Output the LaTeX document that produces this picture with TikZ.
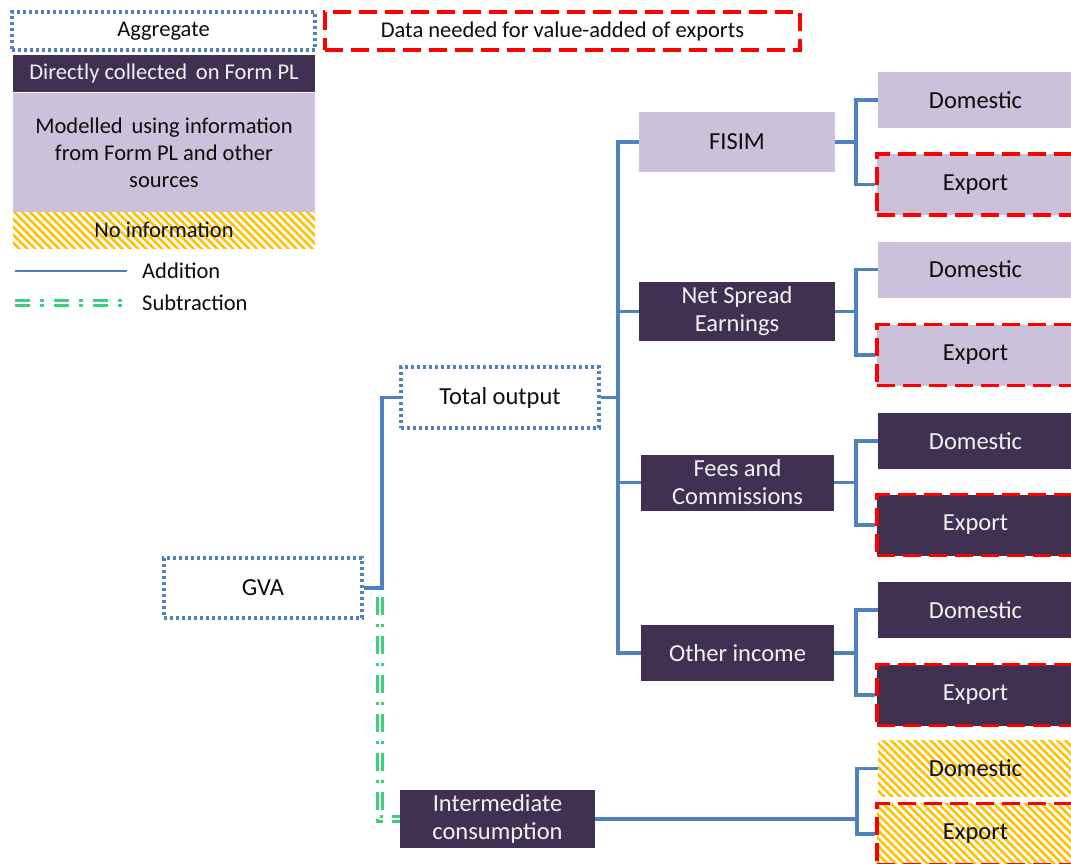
\documentclass[tikz,border=0pt]{standalone}
\usepackage{fontspec}
\setmainfont{Carlito}
\usetikzlibrary{patterns.meta}
\definecolor{darkp}{HTML}{403152}
\definecolor{lightp}{HTML}{CCC1DA}
\definecolor{conn}{HTML}{4F81BD}
\definecolor{subg}{HTML}{3DD07A}
\definecolor{hatch}{HTML}{FFC000}
\definecolor{lighttxt}{HTML}{F2F2F2}
\definecolor{darktxt}{HTML}{0D0D0D}
\tikzset{
  box/.style={minimum width=#1, inner sep=0pt, align=center, anchor=center},
  mainf/.style={font=\fontsize{24.5}{28}\selectfont},
  legf/.style={font=\fontsize{22.5}{27}\selectfont},
  darkbox/.style={fill=darkp, text=lighttxt, draw=none},
  lightbox/.style={fill=lightp, text=darktxt, draw=none},
  hatchbox/.style={pattern={Lines[angle=-45,distance=5.6pt,line width=2.6pt]}, pattern color=hatch, text=darktxt},
  aggbox/.style={draw=conn, line width=3.3pt, dash pattern=on 3pt off 3pt, fill=white, text=darktxt},
  expbox/.style={draw=red, line width=3.4pt, dash pattern=on 18pt off 8pt},
  addline/.style={draw=conn, line width=3.5pt},
  subline/.style={draw=subg, line width=3pt, double=white, double distance=1.6pt, dash pattern=on 18pt off 9pt on 3pt off 9pt},
}
\begin{document}
\begin{tikzpicture}[x=1pt,y=-1pt]
\useasboundingbox (0,0) rectangle (1071,863);
\clip (0,0) rectangle (1071,863);
\fill[white] (0,0) rectangle (1071,863);

% legend
\node[box=303pt, minimum height=38pt, aggbox, legf] (lagg) at (163.5,31) {Aggregate};
\node[box=475pt, minimum height=38pt, expbox, fill=white, text=darktxt, legf] (lexp) at (562.5,31) {Data needed for value-added of exports};
\node[box=302pt, minimum height=37pt, darkbox, legf] (ldir) at (164,73.5) {Directly collected\, on Form PL};
\node[box=302pt, minimum height=119pt, lightbox, legf] (lmod) at (164,152.5) {Modelled\, using information\\from Form PL and other\\sources};
\node[box=302pt, minimum height=36pt, hatchbox, legf] (lno) at (164,230) {No information};
\coordinate (la1) at (15,271);
\coordinate (la2) at (127,271);
\draw[addline, line width=2.4pt] (la1) -- (la2);
\node[anchor=west, inner sep=0pt, legf, text=darktxt] (ladd) at (142,271) {Addition};
\coordinate (ls1) at (15,303);
\coordinate (ls2) at (122,303);
\draw[subline, dash pattern=on 15pt off 10pt on 4pt off 10pt] (ls1) -- (ls2);
\node[anchor=west, inner sep=0pt, legf, text=darktxt] (lsub) at (142,303) {Subtraction};

% main tree
\node[box=198pt, minimum height=60pt, aggbox, mainf] (gva) at (263,588) {GVA};
\node[box=198pt, minimum height=61pt, aggbox, mainf] (tot) at (500,397.5) {Total output};
\node[box=195pt, minimum height=58pt, darkbox, mainf] (ic) at (497.5,819) {Intermediate\\consumption};

\node[box=196pt, minimum height=60pt, lightbox, mainf] (fisim) at (737,142) {FISIM};
\node[box=196pt, minimum height=59pt, darkbox, mainf] (nse) at (737,311.5) {Net Spread\\Earnings};
\node[box=193pt, minimum height=56pt, darkbox, mainf] (fc) at (737.5,482.5) {Fees and\\Commissions};
\node[box=193pt, minimum height=56pt, darkbox, mainf] (oi) at (737.5,653) {Other income};

% right column
\node[box=195pt, minimum height=56pt, lightbox, mainf] (fd) at (975.5,100) {Domestic};
\node[box=197pt, minimum height=61pt, lightbox, expbox, mainf] (fe) at (975.5,184.5) {Export};
\node[box=195pt, minimum height=56pt, lightbox, mainf] (nd) at (975.5,269.5) {Domestic};
\node[box=197pt, minimum height=61pt, lightbox, expbox, mainf] (ne) at (975.5,355) {Export};
\node[box=195pt, minimum height=56pt, darkbox, mainf] (cd) at (975.5,441) {Domestic};
\node[box=197pt, minimum height=61pt, darkbox, expbox, mainf] (ce) at (975.5,525) {Export};
\node[box=195pt, minimum height=56pt, darkbox, mainf] (od) at (975.5,610) {Domestic};
\node[box=197pt, minimum height=61pt, darkbox, expbox, mainf] (oe) at (975.5,695) {Export};
\node[box=195pt, minimum height=56pt, hatchbox, mainf] (id) at (975.5,768.5) {Domestic};
\node[box=197pt, minimum height=61pt, hatchbox, expbox, mainf] (ie) at (975.5,834) {Export};

% connectors
\coordinate (gx) at (382,588);
\draw[addline] (gva.east) -- (gx) |- (tot.west);
\coordinate (tx) at (618,397.5);
\draw[addline] (tot.east) -- (tx);
\draw[addline] (fisim.west) -| (tx) |- (oi.west);
\draw[addline] (nse.west) -- (nse.west -| tx);
\draw[addline] (fc.west) -- (fc.west -| tx);

\coordinate (fx) at (856,142);
\draw[addline] (fisim.east) -- (fx);
\draw[addline] (fd.west) -| (fx) |- (fe.west);
\coordinate (nx) at (856,311.5);
\draw[addline] (nse.east) -- (nx);
\draw[addline] (nd.west) -| (nx) |- (ne.west);
\coordinate (cx) at (856,482.5);
\draw[addline] (fc.east) -- (cx);
\draw[addline] (cd.west) -| (cx) |- (ce.west);
\coordinate (ox) at (856,653);
\draw[addline] (oi.east) -- (ox);
\draw[addline] (od.west) -| (ox) |- (oe.west);
\coordinate (ix) at (857,819);
\draw[addline] (ic.east) -- (ix);
\draw[addline] (id.west) -| (ix) |- (ie.west);

\coordinate (sx) at (380,597);
\draw[subline] (sx) |- (ic.west);
\end{tikzpicture}
\end{document}
